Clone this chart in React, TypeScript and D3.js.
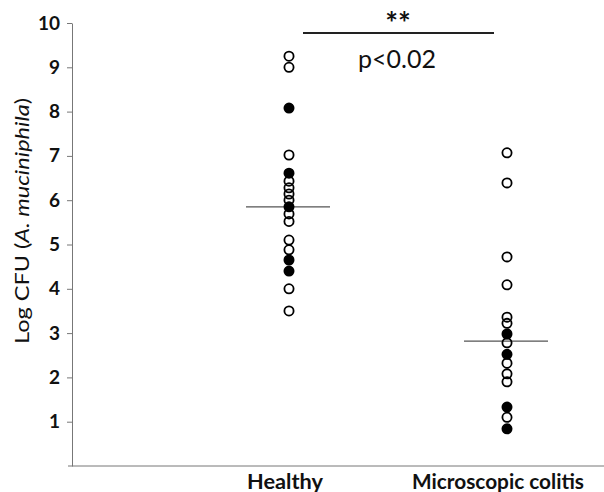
import React, { useEffect, useRef } from 'react';
import { axisLeft, scaleLinear, scalePoint, select } from 'd3';

const groups = ['Healthy', 'Microscopic colitis'];

// log CFU values, filled = true for the solid dots
const healthyValues = [9.25, 9.0, 8.08, 7.02, 6.61, 6.43, 6.28, 6.14, 6.0, 5.85, 5.69, 5.52, 5.1, 4.88, 4.65, 4.4, 4.0, 3.5];
const healthyFilled = [false, false, true, false, true, false, false, false, false, true, false, false, false, false, true, true, false, false];
const colitisValues = [7.07, 6.39, 4.72, 4.09, 3.36, 3.22, 2.98, 2.78, 2.52, 2.32, 2.08, 1.9, 1.33, 1.1, 0.84];
const colitisFilled = [false, false, false, false, false, false, true, false, true, false, false, false, true, false, true];

const groupMeans = [5.85, 2.82];
const yTicks = [1, 2, 3, 4, 5, 6, 7, 8, 9, 10];

function App() {
    const width = 604;
    const height = 492;
    const svgRef = useRef(null);

    const yScale = scaleLinear().domain([0, 10]).range([466, 23]);
    const xScale = scalePoint().domain(groups).range([289, 507]);
    const axisX = 72;
    const font = 'Lato, "Open Sans", sans-serif';

    useEffect(() => {
        const svg = select(svgRef.current);
        svg.selectAll('*').remove();

        svg.append('rect').attr('width', width).attr('height', height).attr('fill', '#fff');

        // y axis
        const yAxis = axisLeft(yScale)
            .tickValues(yTicks)
            .tickSize(5)
            .tickSizeOuter(0)
            .tickFormat((d) => `${d}`);
        const gy = svg.append('g').attr('transform', `translate(${axisX},0)`).call(yAxis);
        gy.select('.domain').attr('stroke', '#777').attr('stroke-width', 1);
        gy.selectAll('.tick line').attr('stroke', '#777');
        gy.selectAll('.tick text')
            .attr('x', -12)
            .attr('fill', '#111')
            .attr('font-family', font)
            .attr('font-weight', 'bold')
            .attr('font-size', 19);

        // x axis line
        svg.append('line')
            .attr('x1', axisX - 4).attr('x2', width)
            .attr('y1', yScale(0)).attr('y2', yScale(0))
            .attr('stroke', '#777').attr('stroke-width', 1);

        // y title
        const title = svg.append('text')
            .attr('transform', `translate(29,221) rotate(-90)`)
            .attr('text-anchor', 'middle')
            .attr('font-family', font)
            .attr('font-size', 20)
            .attr('textLength', 246)
            .attr('lengthAdjust', 'spacingAndGlyphs')
            .attr('fill', '#111');
        title.append('tspan').text('Log CFU (');
        title.append('tspan').attr('font-style', 'italic').text('A. muciniphila');
        title.append('tspan').text(')');

        // category labels
        const labelShift = [-4, -9];
        const labelWidth = [76, 172];
        groups.forEach((g, i) => {
            svg.append('text')
                .attr('x', xScale(g) + labelShift[i])
                .attr('y', 489)
                .attr('text-anchor', 'middle')
                .attr('font-family', font)
                .attr('font-weight', 'bold')
                .attr('font-size', 21)
                .attr('textLength', labelWidth[i])
                .attr('lengthAdjust', 'spacingAndGlyphs')
                .attr('fill', '#111')
                .text(g);
        });

        // mean lines
        groupMeans.forEach((m, i) => {
            const cx = xScale(groups[i]);
            svg.append('line')
                .attr('x1', cx - 43).attr('x2', cx + 41)
                .attr('y1', yScale(m)).attr('y2', yScale(m))
                .attr('stroke', '#555').attr('stroke-width', 1.2);
        });

        // dots
        const series = [
            { values: healthyValues, filled: healthyFilled },
            { values: colitisValues, filled: colitisFilled },
        ];
        series.forEach((s, i) => {
            svg.append('g')
                .selectAll('circle')
                .data(s.values)
                .join('circle')
                .attr('cx', xScale(groups[i]))
                .attr('cy', (d) => yScale(d))
                .attr('r', 4.6)
                .attr('fill', (d, j) => (s.filled[j] ? '#000' : 'none'))
                .attr('stroke', '#000')
                .attr('stroke-width', 1.8);
        });

        // significance
        svg.append('line')
            .attr('x1', 303).attr('x2', 494)
            .attr('y1', 33).attr('y2', 33)
            .attr('stroke', '#222').attr('stroke-width', 2);
        svg.append('text')
            .attr('x', 398).attr('y', 34)
            .attr('text-anchor', 'middle')
            .attr('font-family', font)
            .attr('font-weight', 'bold')
            .attr('font-size', 30)
            .attr('fill', '#111')
            .text('**');
        svg.append('text')
            .attr('x', 397).attr('y', 68)
            .attr('text-anchor', 'middle')
            .attr('font-family', font)
            .attr('font-size', 25)
            .attr('fill', '#111')
            .text('p<0.02');
    }, []);

    return (
        <svg
            ref={svgRef}
            width={width}
            height={height}
            style={{ position: 'absolute', left: 0, top: 0 }}
        ></svg>
    );
}

export default App;
